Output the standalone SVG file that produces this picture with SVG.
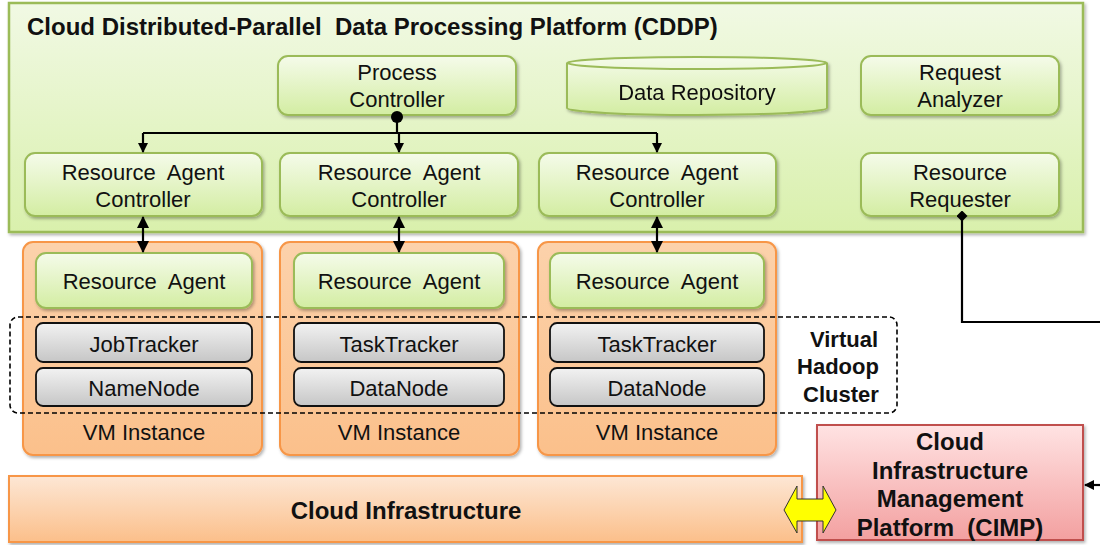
<svg xmlns="http://www.w3.org/2000/svg" width="1100" height="545" viewBox="0 0 1100 545">
<defs>
  <linearGradient id="gOuter" x1="0" y1="0" x2="0" y2="1">
    <stop offset="0" stop-color="#f1f9e4"/>
    <stop offset="1" stop-color="#d9f0ac"/>
  </linearGradient>
  <linearGradient id="gGreen" x1="0" y1="0" x2="0" y2="1">
    <stop offset="0" stop-color="#f5fbea"/>
    <stop offset="1" stop-color="#d3eda2"/>
  </linearGradient>
  <linearGradient id="gVM" x1="0" y1="0" x2="0" y2="1">
    <stop offset="0" stop-color="#fcd2ab"/>
    <stop offset="1" stop-color="#fbc08b"/>
  </linearGradient>
  <linearGradient id="gInfra" x1="0" y1="0" x2="0" y2="1">
    <stop offset="0" stop-color="#fde7d5"/>
    <stop offset="1" stop-color="#fbbf8a"/>
  </linearGradient>
  <linearGradient id="gRed" x1="0" y1="0" x2="0" y2="1">
    <stop offset="0" stop-color="#ffe3e3"/>
    <stop offset="1" stop-color="#f3a0a0"/>
  </linearGradient>
  <linearGradient id="gGray" x1="0" y1="0" x2="0" y2="1">
    <stop offset="0" stop-color="#f2f2f2"/>
    <stop offset="1" stop-color="#c6c6c6"/>
  </linearGradient>
  <filter id="sh" x="-5%" y="-5%" width="112%" height="120%">
    <feDropShadow dx="1.5" dy="2" stdDeviation="1.5" flood-color="#000" flood-opacity="0.3"/>
  </filter>
  <marker id="arr" viewBox="0 0 10 10" refX="9" refY="5" markerWidth="10" markerHeight="10" markerUnits="userSpaceOnUse" orient="auto-start-reverse">
    <path d="M0,0 L10,5 L0,10 Z" fill="#000"/>
  </marker>
  <marker id="arr2" viewBox="0 0 12 12" refX="11" refY="6" markerWidth="12" markerHeight="12" markerUnits="userSpaceOnUse" orient="auto-start-reverse">
    <path d="M0,0 L12,6 L0,12 Z" fill="#000"/>
  </marker>
  <marker id="dot" viewBox="0 0 10 10" refX="5" refY="5" markerWidth="12" markerHeight="12" markerUnits="userSpaceOnUse">
    <circle cx="5" cy="5" r="5" fill="#000"/>
  </marker>
  <marker id="dia" viewBox="0 0 10 10" refX="5" refY="5" markerWidth="11" markerHeight="11" markerUnits="userSpaceOnUse">
    <path d="M5,0 L10,5 L5,10 L0,5 Z" fill="#000"/>
  </marker>
</defs>
<style>
  text { font-family: "Liberation Sans", Arial, sans-serif; fill: #111; text-anchor: middle; white-space: pre; }
  .t { font-size: 22px; }
  .b { font-weight: bold; }
  .bb { font-size: 24px; font-weight: bold; }
  .green { fill: url(#gGreen); stroke: #9bbb59; stroke-width: 2; }
  .vm { fill: url(#gVM); stroke: #f79646; stroke-width: 2; }
  .gray { fill: url(#gGray); stroke: #111; stroke-width: 1.8; }
  .conn { fill: none; stroke: #000; stroke-width: 2.2; }
</style>

<g id="cddp">
  <rect x="9" y="3" width="1074" height="229" fill="url(#gOuter)" stroke="#9bbb59" stroke-width="2.5" filter="url(#sh)"/>
  <text x="27" y="35" class="bb" style="text-anchor:start">Cloud Distributed-Parallel  Data Processing Platform (CDDP)</text>
</g>

<g id="process-controller">
  <rect x="278" y="56" width="238" height="59" rx="10" class="green" filter="url(#sh)"/>
  <text x="397" y="80" class="t">Process</text>
  <text x="397" y="107" class="t">Controller</text>
</g>

<g id="data-repository" filter="url(#sh)">
  <path d="M567,63 L567,108 A130,7 0 0 0 827,108 L827,63 A130,6 0 0 0 567,63 Z" class="green"/>
  <path d="M567,63 A130,6 0 0 0 827,63" fill="none" stroke="#9bbb59" stroke-width="2"/>
  <text x="697" y="100" class="t">Data Repository</text>
</g>

<g id="request-analyzer">
  <rect x="861" y="56" width="198" height="59" rx="10" class="green" filter="url(#sh)"/>
  <text x="960" y="80" class="t">Request</text>
  <text x="960" y="107" class="t">Analyzer</text>
</g>

<g id="rac1">
  <rect x="25" y="153" width="237" height="63" rx="10" class="green" filter="url(#sh)"/>
  <text x="143" y="180" class="t">Resource  Agent</text>
  <text x="143" y="207" class="t">Controller</text>
</g>
<g id="rac2">
  <rect x="280" y="153" width="238" height="63" rx="10" class="green" filter="url(#sh)"/>
  <text x="399" y="180" class="t">Resource  Agent</text>
  <text x="399" y="207" class="t">Controller</text>
</g>
<g id="rac3">
  <rect x="539" y="153" width="237" height="63" rx="10" class="green" filter="url(#sh)"/>
  <text x="657" y="180" class="t">Resource  Agent</text>
  <text x="657" y="207" class="t">Controller</text>
</g>

<g id="resource-requester">
  <rect x="861" y="153" width="198" height="63" rx="10" class="green" filter="url(#sh)"/>
  <text x="960" y="180" class="t">Resource</text>
  <text x="960" y="207" class="t">Requester</text>
</g>

<g id="vm1">
  <rect x="23" y="242" width="239" height="213" rx="10" class="vm" filter="url(#sh)"/>
  <text x="144" y="440" class="t">VM Instance</text>
</g>
<g id="vm2">
  <rect x="280" y="242" width="239" height="213" rx="10" class="vm" filter="url(#sh)"/>
  <text x="399" y="440" class="t">VM Instance</text>
</g>
<g id="vm3">
  <rect x="538" y="242" width="238" height="213" rx="10" class="vm" filter="url(#sh)"/>
  <text x="657" y="440" class="t">VM Instance</text>
</g>

<g id="ra1">
  <rect x="36" y="253" width="216" height="55" rx="10" class="green" filter="url(#sh)"/>
  <text x="144" y="289" class="t">Resource  Agent</text>
</g>
<g id="ra2">
  <rect x="294" y="253" width="210" height="55" rx="10" class="green" filter="url(#sh)"/>
  <text x="399" y="289" class="t">Resource  Agent</text>
</g>
<g id="ra3">
  <rect x="550" y="253" width="214" height="55" rx="10" class="green" filter="url(#sh)"/>
  <text x="657" y="289" class="t">Resource  Agent</text>
</g>

<g id="jobtracker">
  <rect x="36" y="323" width="216" height="39" rx="7" class="gray"/>
  <text x="144" y="352" class="t">JobTracker</text>
</g>
<g id="namenode">
  <rect x="36" y="368" width="216" height="38" rx="7" class="gray"/>
  <text x="144" y="396" class="t">NameNode</text>
</g>
<g id="tasktracker1">
  <rect x="294" y="323" width="210" height="39" rx="7" class="gray"/>
  <text x="399" y="352" class="t">TaskTracker</text>
</g>
<g id="datanode1">
  <rect x="294" y="368" width="210" height="38" rx="7" class="gray"/>
  <text x="399" y="396" class="t">DataNode</text>
</g>
<g id="tasktracker2">
  <rect x="550" y="323" width="214" height="39" rx="7" class="gray"/>
  <text x="657" y="352" class="t">TaskTracker</text>
</g>
<g id="datanode2">
  <rect x="550" y="368" width="214" height="38" rx="7" class="gray"/>
  <text x="657" y="396" class="t">DataNode</text>
</g>

<g id="virtual-hadoop-cluster">
  <rect x="10" y="317" width="887" height="96" rx="8" fill="none" stroke="#000" stroke-width="1.6" stroke-dasharray="5,3"/>
  <text x="844" y="347" class="t b">Virtual</text>
  <text x="838" y="374" class="t b">Hadoop</text>
  <text x="841" y="402" class="t b">Cluster</text>
</g>

<g id="cloud-infrastructure">
  <rect x="9" y="476" width="793" height="66" fill="url(#gInfra)" stroke="#f79646" stroke-width="2" filter="url(#sh)"/>
  <text x="406" y="519" class="bb">Cloud Infrastructure</text>
</g>

<g id="cimp">
  <rect x="817" y="425" width="266" height="115" fill="url(#gRed)" stroke="#c0504d" stroke-width="2" filter="url(#sh)"/>
  <text x="950" y="450" class="bb">Cloud</text>
  <text x="950" y="479" class="bb">Infrastructure</text>
  <text x="950" y="507" class="bb">Management</text>
  <text x="950" y="536" class="bb">Platform  (CIMP)</text>
</g>

<g id="connectors">
  <line x1="397" y1="117" x2="397" y2="133" class="conn" marker-start="url(#dot)"/>
  <line x1="143" y1="133" x2="657" y2="133" class="conn"/>
  <line x1="143" y1="133" x2="143" y2="152" class="conn" marker-end="url(#arr)"/>
  <line x1="399" y1="133" x2="399" y2="152" class="conn" marker-end="url(#arr)"/>
  <line x1="657" y1="133" x2="657" y2="152" class="conn" marker-end="url(#arr)"/>
  <line x1="143" y1="217" x2="143" y2="252" class="conn" marker-start="url(#arr2)" marker-end="url(#arr2)"/>
  <line x1="399" y1="217" x2="399" y2="252" class="conn" marker-start="url(#arr2)" marker-end="url(#arr2)"/>
  <line x1="657" y1="217" x2="657" y2="252" class="conn" marker-start="url(#arr2)" marker-end="url(#arr2)"/>
  <polyline points="962,216 962,322 1102,322" class="conn" stroke-width="2.5" marker-start="url(#dia)"/>
  <line x1="1102" y1="485" x2="1085" y2="485" class="conn" stroke-width="2.5" marker-end="url(#arr)"/>
  <path d="M784,510 L797,486 L797,499 L823,499 L823,486 L836,510 L823,533 L823,521 L797,521 L797,533 Z" fill="#ffff00" stroke="#333" stroke-width="1"/>
</g>
</svg>
